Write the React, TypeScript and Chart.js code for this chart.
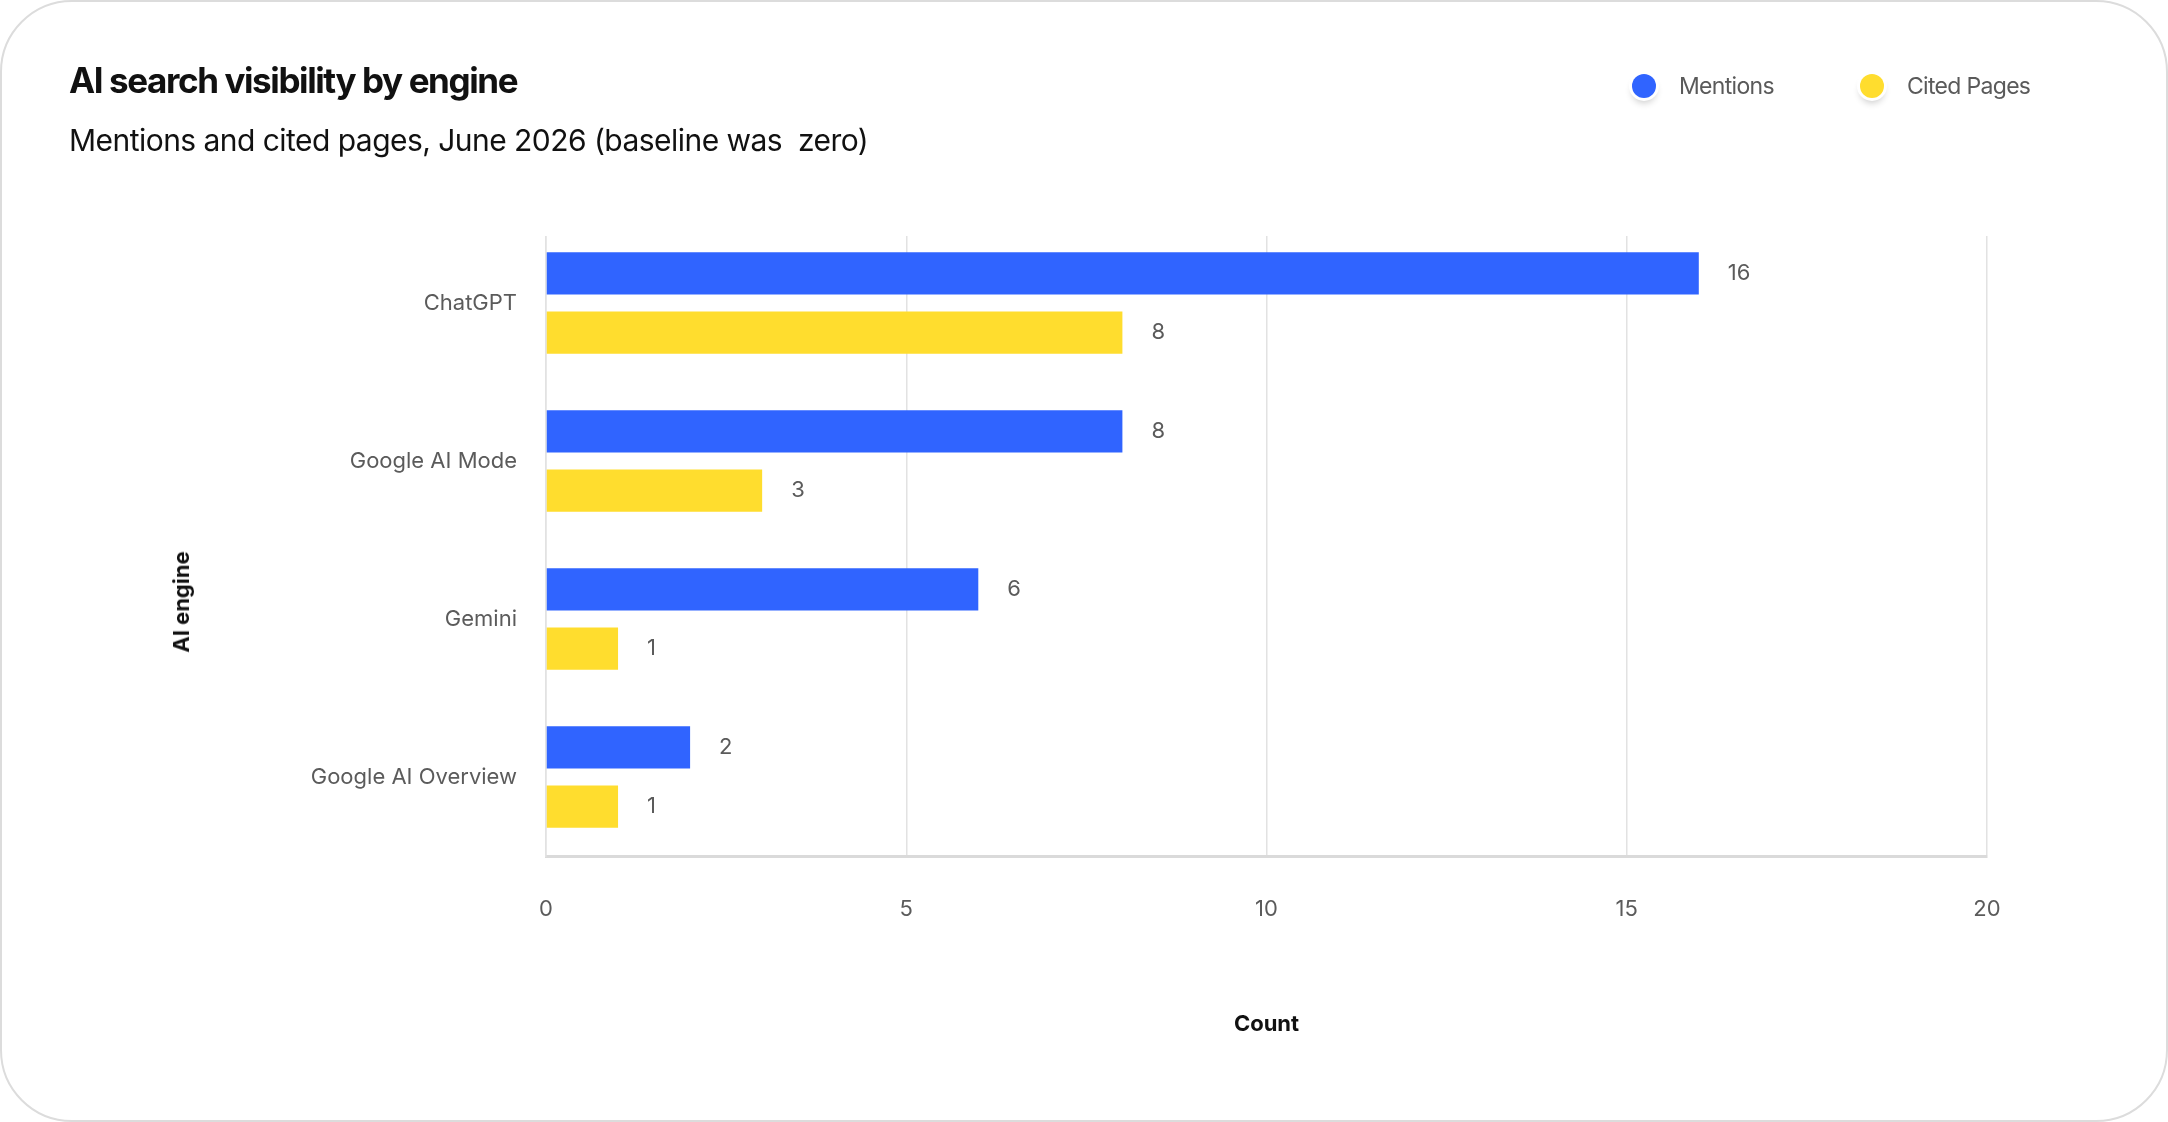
import React, { useEffect, useRef } from "react";
import { Chart, registerables } from "chart.js";

Chart.register(...registerables);

const categories = ["ChatGPT", "Google AI Mode", "Gemini", "Google AI Overview"];
const mentions = [16, 8, 6, 2];
const citedPages = [8, 3, 1, 1];
const seriesNames = ["Mentions", "Cited Pages"];
const seriesColors = ["#3064FF", "#FFDD2E"];
const xMin = 0;
const xMax = 20;
const xStep = 5;
const titleText = "AI search visibility by engine";
const subtitleText = "Mentions and cited pages, June 2026 (baseline was  zero)";
const xAxisTitle = "Count";
const yAxisTitle = "AI engine";

const W = 2168;
const H = 1122;
const AREA = { left: 546, right: 1987, top: 224, bottom: 856 };
const GRID_TOP_GAP = 12;
const PAD_BOTTOM = 84;
const FONT = "Inter, 'Noto Sans', sans-serif";

const valueLabels = {
  id: "valueLabels",
  afterDatasetsDraw(chart: any) {
    const { ctx } = chart;
    ctx.save();
    ctx.font = `22px ${FONT}`;
    ctx.fillStyle = "#5b5b5b";
    ctx.textAlign = "left";
    ctx.textBaseline = "middle";
    chart.data.datasets.forEach((ds: any, i: number) => {
      chart.getDatasetMeta(i).data.forEach((bar: any, j: number) => {
        ctx.fillText(String(ds.data[j]), bar.x + 29, bar.y);
      });
    });
    ctx.restore();
  },
};

// the reference's grid lines start a little below the top of the plot area
const gridTopTrim = {
  id: "gridTopTrim",
  beforeDatasetsDraw(chart: any) {
    const { ctx, chartArea } = chart;
    ctx.save();
    ctx.fillStyle = "#ffffff";
    ctx.fillRect(chartArea.left - 4, chartArea.top - 4, chartArea.right - chartArea.left + 8, GRID_TOP_GAP + 4);
    ctx.restore();
  },
};

export default function App() {
  const canvasRef = useRef<HTMLCanvasElement | null>(null);

  useEffect(() => {
    document.body.style.margin = "0";
    document.body.style.background = "#ffffff";
    Chart.defaults.font.family = FONT;
    const canvas = canvasRef.current;
    if (!canvas) return;
    const chart = new Chart(canvas, {
      type: "bar",
      data: {
        labels: categories,
        datasets: [
          {
            label: seriesNames[0],
            data: mentions,
            backgroundColor: seriesColors[0],
            categoryPercentage: 0.75,
            barPercentage: 0.71,
          },
          {
            label: seriesNames[1],
            data: citedPages,
            backgroundColor: seriesColors[1],
            categoryPercentage: 0.75,
            barPercentage: 0.71,
          },
        ],
      },
      options: {
        indexAxis: "y",
        responsive: false,
        animation: false,
        devicePixelRatio: 1,
        layout: {
          padding: { left: 0, top: AREA.top, right: W - AREA.right, bottom: PAD_BOTTOM },
        },
        plugins: {
          legend: { display: false },
          title: { display: false },
          tooltip: { enabled: false },
        },
        scales: {
          x: {
            type: "linear",
            min: xMin,
            max: xMax,
            ticks: { stepSize: xStep, padding: 40, color: "#5b5b5b", font: { size: 22 } },
            grid: { color: "#e2e2e2", lineWidth: 1.5, drawTicks: false },
            border: { display: true, color: "#dadada", width: 3 },
            title: {
              display: true,
              text: xAxisTitle,
              color: "#111111",
              font: { size: 22, weight: "bold" },
              padding: { top: 0, bottom: 0 },
            },
            afterFit: (s: any) => {
              s.height = H - AREA.bottom - PAD_BOTTOM;
              s.paddingLeft = 0;
              s.paddingRight = 0;
            },
          },
          y: {
            type: "category",
            ticks: { padding: 29, color: "#5b5b5b", font: { size: 22 } },
            grid: { display: false, drawTicks: false },
            border: { display: true, color: "#e2e2e2", width: 1.5 },
            afterFit: (s: any) => {
              s.width = AREA.left;
              s.paddingTop = 0;
              s.paddingBottom = 0;
            },
          },
        },
      } as any,
      plugins: [gridTopTrim, valueLabels],
    });
    return () => chart.destroy();
  }, []);

  const legendItem = (name: string, color: string, left: number) => (
    <div key={name} style={{ position: "absolute", left, top: 74, display: "flex", alignItems: "center" }}>
      <div
        style={{
          width: 24,
          height: 24,
          borderRadius: "50%",
          background: color,
          boxShadow: "0 0 0 3px #ffffff, 0 5px 7px rgba(0,0,0,0.2)",
        }}
      />
      <span
        style={{
          marginLeft: 23,
          fontFamily: FONT,
          fontSize: 23,
          color: "#5a5a5a",
          letterSpacing: "-0.03em",
          lineHeight: 1,
        }}
      >
        {name}
      </span>
    </div>
  );

  return (
    <div style={{ position: "relative", width: W, height: H, background: "#fff", overflow: "hidden" }}>
      <div
        style={{
          position: "absolute",
          inset: 0,
          border: "2px solid #dcdcdc",
          borderRadius: 72,
          boxSizing: "border-box",
        }}
      />
      <canvas ref={canvasRef} width={W} height={H} style={{ position: "absolute", left: 0, top: 0, width: W, height: H }} />
      <div
        style={{
          position: "absolute",
          left: 69,
          top: 63,
          fontFamily: FONT,
          fontWeight: 700,
          fontSize: 35,
          lineHeight: 1,
          letterSpacing: "-0.04em",
          color: "#111",
          whiteSpace: "pre",
        }}
      >
        {titleText}
      </div>
      <div
        style={{
          position: "absolute",
          left: 69,
          top: 125,
          fontFamily: FONT,
          fontWeight: 400,
          fontSize: 30,
          lineHeight: 1,
          letterSpacing: "-0.018em",
          color: "#111",
          whiteSpace: "pre",
        }}
      >
        {subtitleText}
      </div>
      {legendItem(seriesNames[0], seriesColors[0], 1632)}
      {legendItem(seriesNames[1], seriesColors[1], 1860)}
      <div
        style={{
          position: "absolute",
          left: 181,
          top: 602,
          transform: "translate(-50%, -50%) rotate(-90deg)",
          fontFamily: FONT,
          fontWeight: 700,
          fontSize: 22,
          lineHeight: 1,
          color: "#111",
          whiteSpace: "pre",
        }}
      >
        {yAxisTitle}
      </div>
    </div>
  );
}
